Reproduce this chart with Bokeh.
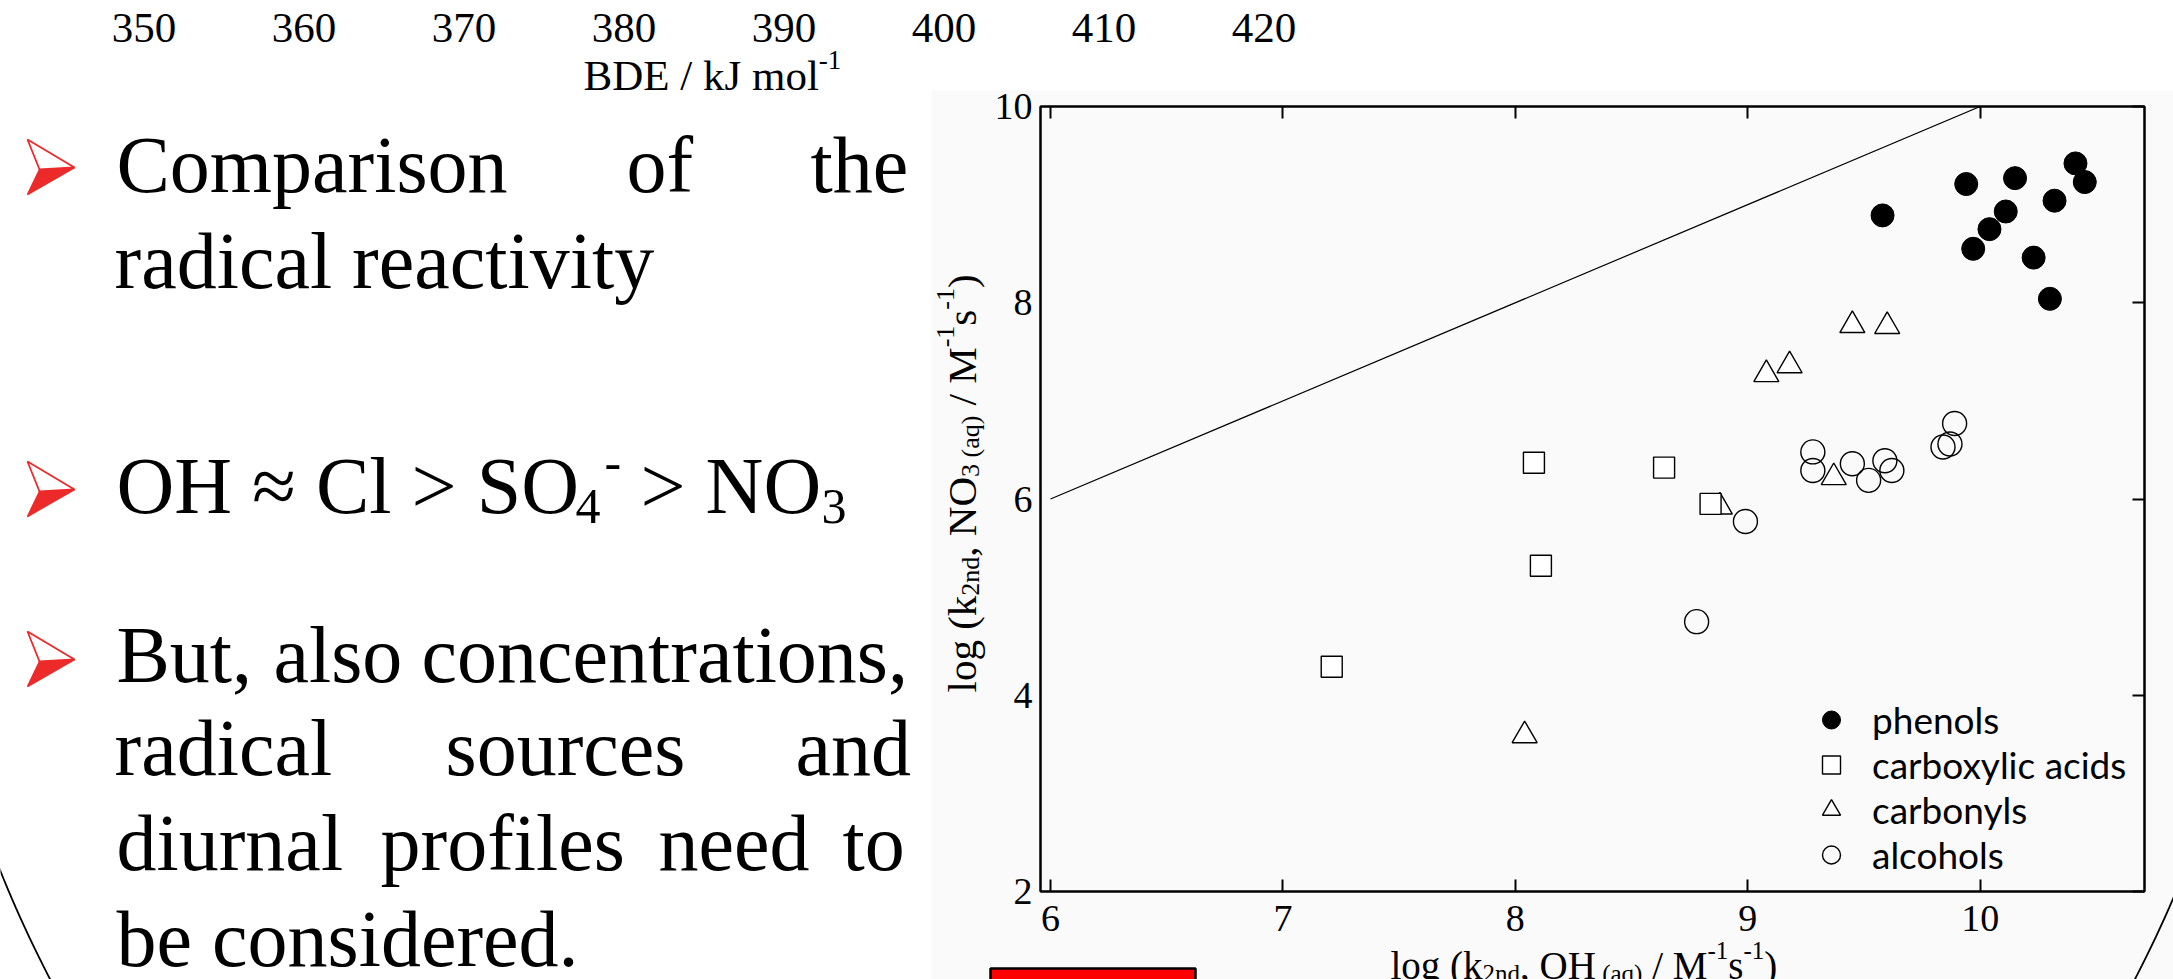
import math
from bokeh.plotting import figure
from bokeh.layouts import column, row
from bokeh.models import (Range1d, LinearAxis, FixedTicker, Label, Legend, LegendItem,
                          PolyAnnotation, BoxAnnotation, CustomJSTickFormatter)
from bokeh.embed import file_html
from bokeh.resources import INLINE

# ---------------- data ----------------
phenols_x = [9.58, 9.94, 10.15, 10.41, 10.45, 10.32, 10.11, 10.04, 9.97, 10.23, 10.30]
phenols_y = [8.89, 9.21, 9.27, 9.42, 9.23, 9.04, 8.93, 8.75, 8.55, 8.46, 8.04]
acids_x = [8.08, 8.64, 8.84, 8.11, 7.21]
acids_y = [6.37, 6.32, 5.95, 5.32, 4.29]
carbonyls_x = [9.45, 9.60, 9.08, 9.18, 9.37, 8.88, 8.04]
carbonyls_y = [7.77, 7.76, 7.27, 7.36, 6.22, 5.92, 3.59]
alcohols_x = [8.99, 9.28, 9.28, 9.45, 9.52, 9.59, 9.62, 9.84, 9.87, 9.89, 8.78]
alcohols_y = [5.77, 6.48, 6.29, 6.36, 6.19, 6.39, 6.29, 6.53, 6.56, 6.77, 4.75]
one_to_one = [6, 10]
x_ticks = [6, 7, 8, 9, 10]
y_ticks = [2, 4, 6, 8, 10]
bde_ticks = [350, 360, 370, 380, 390, 400, 410, 420]
series_names = ["phenols", "carboxylic acids", "carbonyls", "alcohols"]

SERIF = "Liberation Serif"
SANS = "Lato"
RED = "#ED2A2A"

# Times / Liberation Serif advance widths (em)
TW = {" ": .25, "(": .333, ")": .333, "/": .278, ",": .25, ".": .25, "-": .333,
      "0": .5, "1": .5, "2": .5, "3": .5, "4": .5, "5": .5, "6": .5, "7": .5, "8": .5, "9": .5,
      "B": .667, "D": .722, "E": .611, "H": .722, "J": .389, "M": .889, "N": .722, "O": .722,
      "a": .444, "d": .5, "g": .5, "k": .5, "l": .278, "m": .778, "n": .5, "o": .5, "q": .5,
      "s": .389}


def tw(s, size):
    return sum(TW.get(c, 0.5) for c in s) * size


W, H = 2173, 979
FL, FR, FT, FB = 1040, 2144, 106, 891

# ---------- background page (slide decorations and texts), page-pixel coordinates ----------
bg = figure(width=W, height=H, output_backend="svg", toolbar_location=None, title=None,
            x_range=Range1d(0, W), y_range=Range1d(H, 0),
            x_axis_location=None, y_axis_location=None, min_border=0)
bg.grid.grid_line_color = None
bg.outline_line_color = None
bg.background_fill_color = "white"
bg.border_fill_color = "white"

bg.add_layout(BoxAnnotation(left=931, right=W + 10, top=90, bottom=H + 10,
                            fill_color="#FAFAFA", fill_alpha=1, line_color=None,
                            level="underlay"))

ecx, ecy, ea, eb = 1092, 400, 1183, 1224
exs = [ecx + ea * math.cos(2 * math.pi * i / 720) for i in range(720)]
eys = [ecy + eb * math.sin(2 * math.pi * i / 720) for i in range(720)]
bg.add_layout(PolyAnnotation(xs=exs, ys=eys, fill_color=None, fill_alpha=0,
                             line_color="black", line_alpha=1, line_width=1.8))

bg.add_layout(BoxAnnotation(left=990, right=1195, top=968, bottom=1010,
                            fill_color="#FF0000", fill_alpha=1,
                            line_color="black", line_alpha=1, line_width=2.5))

for t in [139, 461, 631]:
    bg.add_layout(PolyAnnotation(xs=[39, 74, 27], ys=[t + 30, t + 28, t + 55],
                                 fill_color=RED, fill_alpha=1,
                                 line_color=RED, line_alpha=1, line_width=1.5))
    bg.add_layout(PolyAnnotation(xs=[27, 74, 39], ys=[t, t + 28, t + 30],
                                 fill_color="white", fill_alpha=1,
                                 line_color=RED, line_alpha=1, line_width=1.8))


def lab(text, x, y, size, font=SERIF, angle=0.0, color="black", align="left"):
    # y is the visual middle line of the text
    bg.add_layout(Label(x=x, y=y, text=text, text_font=font, text_font_size=f"{size}px",
                        text_color=color, text_align=align, text_baseline="alphabetic",
                        angle=angle))


def runs(items, x0, mid, rotated=False):
    pos = x0
    for text, size, shift in items:
        lead = len(text) - len(text.lstrip())
        adv = lead * TW[" "] * size
        pos = pos - adv if rotated else pos + adv
        text = text.lstrip()
        if rotated:
            lab(text, mid - shift, pos, size, angle=math.pi / 2)
            pos -= tw(text, size)
        else:
            lab(text, pos, mid - shift, size)
            pos += tw(text, size)


# top remnants of the upper chart axis
for v in bde_ticks:
    lab(str(v), 143.5 + (v - 350) * 16.0, 27, 43, align="center")
runs([("BDE / kJ mol", 43, 0), ("-1", 27, 16)], 583, 75)

# bullet text
F = 80
for word, x in [("Comparison", 116), ("of", 626), ("the", 810)]:
    lab(word, x, 164, F)
lab("radical reactivity", 114, 260, F)
lab("OH \u2248 Cl > SO", 116, 485, F)
lab("4", 575, 506, 50)
lab("-", 604, 462, 50)
lab("> NO", 640, 485, F)
lab("3", 821, 506, 50)
for word, x in [("But,", 116), ("also", 273), ("concentrations,", 421)]:
    lab(word, x, 654, F)
for word, x in [("radical", 114), ("sources", 445), ("and", 795)]:
    lab(word, x, 747, F)
for word, x in [("diurnal", 116), ("profiles", 380), ("need", 658), ("to", 842)]:
    lab(word, x, 842, F)
lab("be considered.", 116, 938, F)

# axis titles (composed for sub/superscripts)
M, S = 41, 26
runs([("log (k", M, 0), ("2nd", S, -9), (", NO", M, 0), ("3 (aq)", S, -9),
      (" / M", M, 0), ("-1", S, 16), ("s", M, 0), ("-1", S, 16), (")", M, 0)],
     692, 961, rotated=True)
M2, S2 = 39, 25
runs([("log (k", M2, 0), ("2nd", S2, -8), (", OH", M2, 0), (" (aq)", S2, -8),
      (" / M", M2, 0), ("-1", S2, 15), ("s", M2, 0), ("-1", S2, 15), (")", M2, 0)],
     1390, 965)

# ---------------- scatter chart, overlaid on the page ----------------
sc = figure(width=W, height=H, output_backend="svg", toolbar_location=None, title=None,
            x_range=Range1d(5.957, 10.707), y_range=Range1d(2, 10),
            x_axis_location=None, y_axis_location=None,
            min_border_left=FL, min_border_right=W - FR,
            min_border_top=FT, min_border_bottom=H - FB)
sc.grid.grid_line_color = None
sc.outline_line_color = "black"
sc.outline_line_width = 2
sc.background_fill_color = None
sc.border_fill_color = None


def make_axis(ticks, labels=True, tick_in=12, standoff=10):
    ax = LinearAxis(ticker=FixedTicker(ticks=ticks, minor_ticks=[]),
                    axis_line_width=2, axis_line_color="black",
                    major_tick_in=tick_in, major_tick_out=0, major_tick_line_width=2,
                    major_tick_line_color="black" if tick_in else None,
                    minor_tick_line_color=None,
                    major_label_text_font=SERIF, major_label_text_font_size="38px",
                    major_label_text_color="black", major_label_standoff=standoff)
    if not labels:
        ax.formatter = CustomJSTickFormatter(code="return ''")
    return ax


sc.add_layout(make_axis(x_ticks, True, 12, 14), "below")
sc.add_layout(make_axis(x_ticks, False, 12, 2), "above")
sc.add_layout(make_axis(y_ticks, True, 0, 8), "left")
sc.add_layout(make_axis(y_ticks, False, 12, 2), "right")

sc.line(one_to_one, one_to_one, line_color="black", line_width=1.2)
r_cb = sc.scatter(carbonyls_x, carbonyls_y, marker="triangle", size=25,
                  fill_color="white", line_color="black", line_width=1.4)
r_ac = sc.scatter(acids_x, acids_y, marker="square", size=21,
                  fill_color="white", line_color="black", line_width=1.4)
r_al = sc.scatter(alcohols_x, alcohols_y, marker="circle", size=24,
                  fill_color=None, line_color="black", line_width=1.4)
r_ph = sc.scatter(phenols_x, phenols_y, marker="circle", size=23,
                  fill_color="black", line_color="black")

legend = Legend(items=[LegendItem(label=series_names[0], renderers=[r_ph]),
                       LegendItem(label=series_names[1], renderers=[r_ac]),
                       LegendItem(label=series_names[2], renderers=[r_cb]),
                       LegendItem(label=series_names[3], renderers=[r_al])],
                location=(765, 14), orientation="vertical",
                glyph_width=52, glyph_height=45, spacing=0, padding=0, margin=0,
                label_standoff=15, border_line_color=None, background_fill_alpha=0,
                label_text_font=SANS, label_text_font_size="37px", label_text_color="black")
sc.add_layout(legend)

top = row(sc)
top.margin = (-H, 0, 0, 0)
layout = column(bg, top)
open("out.html", "w").write(file_html(layout, INLINE))
